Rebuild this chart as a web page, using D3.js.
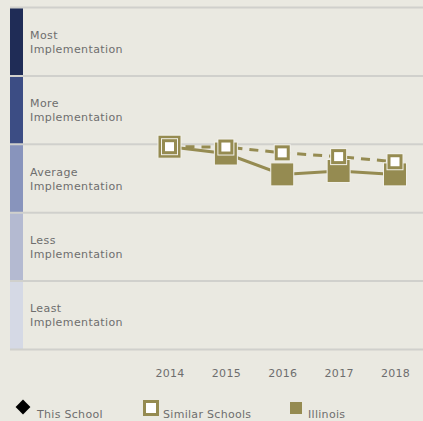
<!DOCTYPE html>
<html>
<head>
<meta charset="utf-8">
<script src="https://cdn.jsdelivr.net/npm/d3@7"></script>
<style>
  html, body { margin: 0; padding: 0; background: #eae9e1; }
  svg { display: block; }
  text { font-family: "DejaVu Sans", Verdana, sans-serif; fill: #6e6e6e; }
</style>
</head>
<body>
<svg id="chart" width="423" height="421"></svg>
<script>
const years = ["2014", "2015", "2016", "2017", "2018"];
const similarSchools = [59.3, 59.2, 57.5, 56.4, 54.9];
const illinois = [59.3, 57.3, 51.2, 52.2, 51.2];
const bandLabels = ["Most", "More", "Average", "Less", "Least"];
const bandColors = ["#1f2c56", "#3c4d84", "#8894bc", "#b4bad1", "#d5d9e5"];
const bandEdges = [100, 80, 60, 40, 20, 0];
const legendLabels = ["This School", "Similar Schools", "Illinois"];

const olive = "#958b51";
const svg = d3.select("#chart");

const y = d3.scaleLinear().domain([0, 100]).range([349.5, 7.5]);
const x = d3.scalePoint().domain(years).range([169.5, 395]);

// bands
const bands = bandLabels.map((l, i) => ({ label: l, top: bandEdges[i], bottom: bandEdges[i + 1], color: bandColors[i] }));
svg.selectAll("rect.band").data(bands).enter().append("rect")
  .attr("x", 10).attr("width", 13)
  .attr("y", d => y(d.top)).attr("height", d => y(d.bottom) - y(d.top))
  .attr("fill", d => d.color);

// gridlines
svg.selectAll("line.grid").data(bandEdges).enter().append("line")
  .attr("x1", 10).attr("x2", 423)
  .attr("y1", d => y(d)).attr("y2", d => y(d))
  .attr("stroke", "#d0d0cc").attr("stroke-width", 2);

// band labels
const lab = svg.selectAll("text.band").data(bands).enter().append("text")
  .attr("x", 30)
  .attr("y", d => (y(d.top) + y(d.bottom)) / 2 - 3)
  .style("font-size", "11px").style("letter-spacing", "0.4px");
lab.append("tspan").attr("x", 30).text(d => d.label);
lab.append("tspan").attr("x", 30).attr("dy", 14).text("Implementation");

// x axis labels
const xAxis = d3.axisBottom(x).tickSize(0).tickPadding(0);
const ax = svg.append("g").attr("transform", "translate(0,369.5)").call(xAxis);
ax.select(".domain").remove();
ax.selectAll("text").style("font-size", "11px").style("letter-spacing", "0.3px")
  .style("font-family", "'DejaVu Sans', Verdana, sans-serif").attr("fill", "#6e6e6e");

// lines
const line = d3.line().x((d, i) => x(years[i])).y(d => y(d));
svg.append("path").datum(similarSchools).attr("d", line)
  .attr("fill", "none").attr("stroke", olive).attr("stroke-width", 3)
  .attr("stroke-dasharray", "9,7");
svg.append("path").datum(illinois).attr("d", line)
  .attr("fill", "none").attr("stroke", olive).attr("stroke-width", 3);

// Illinois markers
svg.selectAll("rect.il").data(illinois).enter().append("rect")
  .attr("x", (d, i) => x(years[i]) - 11.5).attr("y", d => y(d) - 11.5)
  .attr("width", 23).attr("height", 23)
  .attr("fill", olive).attr("stroke", "#f2f1ea").attr("stroke-width", 1);

// Similar schools markers
const sim = svg.selectAll("g.sim").data(similarSchools).enter().append("g")
  .attr("transform", (d, i) => `translate(${x(years[i])},${y(d)})`);
sim.append("rect").attr("x", -8.5).attr("y", -8.5).attr("width", 17).attr("height", 17).attr("fill", "#f2f1ea");
sim.append("rect").attr("x", -7.5).attr("y", -7.5).attr("width", 15).attr("height", 15).attr("fill", olive);
sim.append("rect").attr("x", -4.5).attr("y", -4.5).attr("width", 9).attr("height", 9).attr("fill", "#ffffff");

// legend
const lg = svg.append("g");
lg.append("path").attr("d", d3.symbol(d3.symbolDiamond2, 140)()).attr("transform", "translate(23,407)").attr("fill", "#000");
lg.append("rect").attr("x", 143).attr("y", 400).attr("width", 16).attr("height", 16).attr("fill", olive);
lg.append("rect").attr("x", 146).attr("y", 403).attr("width", 10).attr("height", 10).attr("fill", "#fff");
lg.append("rect").attr("x", 290).attr("y", 402).attr("width", 12).attr("height", 12).attr("fill", olive);
const lx = [37, 163, 308];
lg.selectAll("text").data(legendLabels).enter().append("text")
  .attr("x", (d, i) => lx[i]).attr("y", 418)
  .style("font-size", "11px").style("letter-spacing", "0.3px")
  .text(d => d);
</script>
</body>
</html>
